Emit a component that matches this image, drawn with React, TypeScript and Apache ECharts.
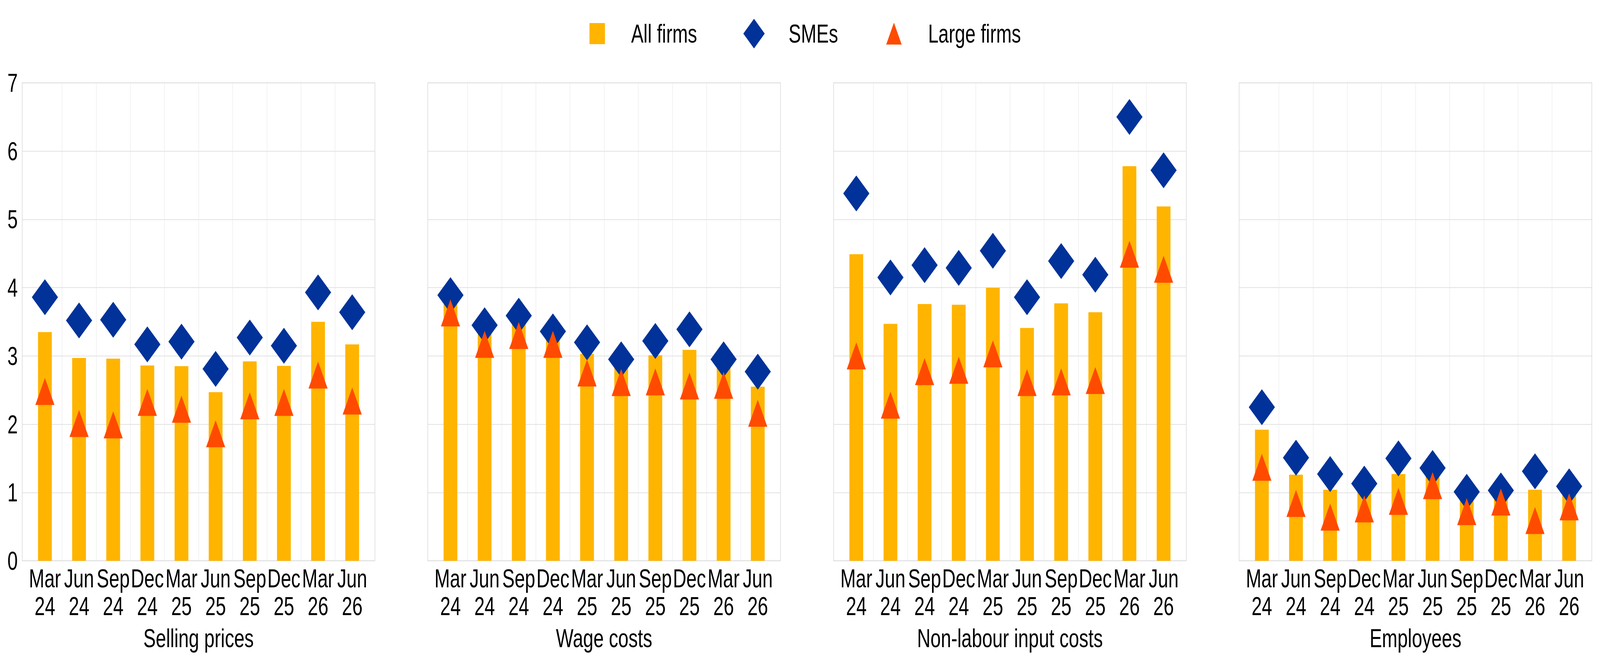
import React, { useEffect, useRef } from 'react';
import * as echarts from 'echarts';

const categories = ['Mar\n24', 'Jun\n24', 'Sep\n24', 'Dec\n24', 'Mar\n25', 'Jun\n25', 'Sep\n25', 'Dec\n25', 'Mar\n26', 'Jun\n26'];
const panelTitles = ['Selling prices', 'Wage costs', 'Non-labour input costs', 'Employees'];
const seriesNames = ['All firms', 'SMEs', 'Large firms'];
const yMin = 0;
const yMax = 7;
const yInterval = 1;

const allFirmsSelling = [3.35, 2.97, 2.96, 2.86, 2.85, 2.47, 2.92, 2.855, 3.5, 3.17];
const smesSelling = [3.86, 3.52, 3.53, 3.17, 3.21, 2.81, 3.27, 3.15, 3.93, 3.64];
const largeSelling = [2.48, 2.01, 1.99, 2.32, 2.22, 1.86, 2.27, 2.32, 2.72, 2.34];

const allFirmsWage = [3.76, 3.34, 3.47, 3.25, 3.03, 2.84, 3.01, 3.09, 2.84, 2.55];
const smesWage = [3.89, 3.45, 3.59, 3.36, 3.2, 2.95, 3.22, 3.39, 2.95, 2.77];
const largeWage = [3.63, 3.17, 3.3, 3.17, 2.75, 2.61, 2.62, 2.56, 2.57, 2.16];

const allFirmsInput = [4.49, 3.47, 3.76, 3.75, 4.0, 3.41, 3.77, 3.64, 5.78, 5.19];
const smesInput = [5.38, 4.15, 4.33, 4.29, 4.54, 3.86, 4.39, 4.19, 6.5, 5.72];
const largeInput = [3.0, 2.28, 2.77, 2.79, 3.03, 2.61, 2.62, 2.64, 4.49, 4.27];

const allFirmsEmployees = [1.92, 1.26, 1.04, 1.01, 1.27, 1.25, 0.9, 0.92, 1.04, 0.98];
const smesEmployees = [2.25, 1.51, 1.27, 1.13, 1.5, 1.36, 1.01, 1.03, 1.31, 1.09];
const largeEmployees = [1.37, 0.84, 0.64, 0.76, 0.87, 1.1, 0.72, 0.86, 0.59, 0.79];

const panelData = [
  [allFirmsSelling, smesSelling, largeSelling],
  [allFirmsWage, smesWage, largeWage],
  [allFirmsInput, smesInput, largeInput],
  [allFirmsEmployees, smesEmployees, largeEmployees],
];

const COLORS = ['#FFB400', '#003299', '#FF4B00'];
const FONT = "'Liberation Sans', Arial, sans-serif";
const REF_W = 5689;
const REF_H = 1694;

function buildOption() {
  const FS = 66;
  const frameLefts = [79, 1521, 2964, 4406];
  const frameWidth = 1254;
  const top = 212;
  const height = 1223;
  const pad = 20;

  const grid: any[] = [];
  const xAxis: any[] = [];
  const yAxis: any[] = [];
  const series: any[] = [];

  // 11 split lines on the band axis: the outer two are hidden (the frame draws the edges)
  const vColors = ['rgba(0,0,0,0)'].concat(categories.slice(1).map(() => '#e2e2e2')).concat(['rgba(0,0,0,0)']);

  frameLefts.forEach((left, p) => {
    const fi = 2 * p;
    const di = 2 * p + 1;
    grid.push({
      left,
      top,
      width: frameWidth,
      height,
      show: true,
      borderColor: '#d9d9d9',
      borderWidth: 2,
      backgroundColor: 'rgba(0,0,0,0)',
      containLabel: false,
    });
    grid.push({
      left: left + pad,
      top,
      width: frameWidth - 2 * pad,
      height,
      containLabel: false,
    });
    xAxis.push({ type: 'value', gridIndex: fi, min: 0, max: 1, show: false });
    xAxis.push({
      type: 'category',
      gridIndex: di,
      data: categories,
      boundaryGap: true,
      axisLine: { show: false },
      axisTick: { show: false },
      splitLine: { show: true, interval: 0, lineStyle: { color: vColors, width: 1 } },
      axisLabel: {
        interval: 0,
        margin: 10,
        color: '#000',
        fontSize: FS,
        lineHeight: 71,
        fontFamily: FONT,
      },
      name: panelTitles[p],
      nameLocation: 'middle',
      nameGap: 165,
      nameTextStyle: { color: '#000', fontSize: FS, fontFamily: FONT },
    });
    yAxis.push({
      type: 'value',
      gridIndex: fi,
      min: yMin,
      max: yMax,
      interval: yInterval,
      axisLine: { show: false },
      axisTick: { show: false },
      splitLine: { show: true, lineStyle: { color: '#d9d9d9', width: 1.5 } },
      axisLabel: {
        show: p === 0,
        margin: 16,
        color: '#000',
        fontSize: FS,
        fontFamily: FONT,
      },
    });
    yAxis.push({ type: 'value', gridIndex: di, min: yMin, max: yMax, interval: yInterval, show: false });

    const [all, sme, large] = panelData[p];
    series.push({
      type: 'bar',
      name: seriesNames[0],
      xAxisIndex: di,
      yAxisIndex: di,
      data: all,
      barWidth: 49,
      itemStyle: { color: COLORS[0] },
    });
    series.push({
      type: 'scatter',
      name: seriesNames[1],
      xAxisIndex: di,
      yAxisIndex: di,
      data: sme,
      symbol: 'diamond',
      symbolSize: [93, 92],
      itemStyle: { color: COLORS[1], opacity: 1 },
    });
    series.push({
      type: 'scatter',
      name: seriesNames[2],
      xAxisIndex: di,
      yAxisIndex: di,
      data: large,
      symbol: 'triangle',
      symbolSize: [68, 69],
      itemStyle: { color: COLORS[2], opacity: 1 },
    });
  });

  const baseText = { color: '#000', fontSize: FS, fontFamily: FONT, lineHeight: 76 };
  const legendBase = {
    orient: 'horizontal',
    padding: 0,
    top: 48,
    selectedMode: false,
    itemGap: 0,
  };
  const legend = [
    {
      ...legendBase,
      left: 2096,
      data: [{ name: seriesNames[0], icon: 'rect' }],
      itemWidth: 55,
      itemHeight: 54,
      textStyle: { ...baseText, padding: [0, 0, 0, 88] },
    },
    {
      ...legendBase,
      left: 2643,
      data: [{ name: seriesNames[1], icon: 'diamond' }],
      itemWidth: 76,
      itemHeight: 76,
      textStyle: { ...baseText, padding: [0, 0, 0, 80] },
    },
    {
      ...legendBase,
      left: 3151,
      data: [{ name: seriesNames[2], icon: 'triangle' }],
      itemWidth: 55,
      itemHeight: 56,
      textStyle: { ...baseText, padding: [0, 0, 0, 89] },
    },
  ];

  return {
    animation: false,
    backgroundColor: '#ffffff',
    textStyle: { fontFamily: FONT },
    legend,
    grid,
    xAxis,
    yAxis,
    series,
  };
}

export default function App() {
  const wrapRef = useRef<HTMLDivElement>(null);
  const ref = useRef<HTMLDivElement>(null);
  useEffect(() => {
    const wrap = wrapRef.current;
    const el = ref.current;
    if (!wrap || !el) return;
    const vw = wrap.clientWidth || window.innerWidth;
    const vh = wrap.clientHeight || window.innerHeight;
    // map the 5689x1694 design onto whatever viewport the page really has
    el.style.transform = `scale(${vw / REF_W}, ${vh / REF_H})`;
    const chart = echarts.init(el, undefined, { renderer: 'svg' });
    chart.setOption(buildOption() as any);
    return () => chart.dispose();
  }, []);
  return (
    <div
      ref={wrapRef}
      style={{ position: 'fixed', left: 0, top: 0, width: '100vw', height: '100vh', overflow: 'hidden', background: '#fff' }}
    >
      <div
        ref={ref}
        style={{
          position: 'absolute',
          left: 0,
          top: 0,
          width: REF_W,
          height: REF_H,
          transformOrigin: '0 0',
          background: '#fff',
        }}
      />
    </div>
  );
}
